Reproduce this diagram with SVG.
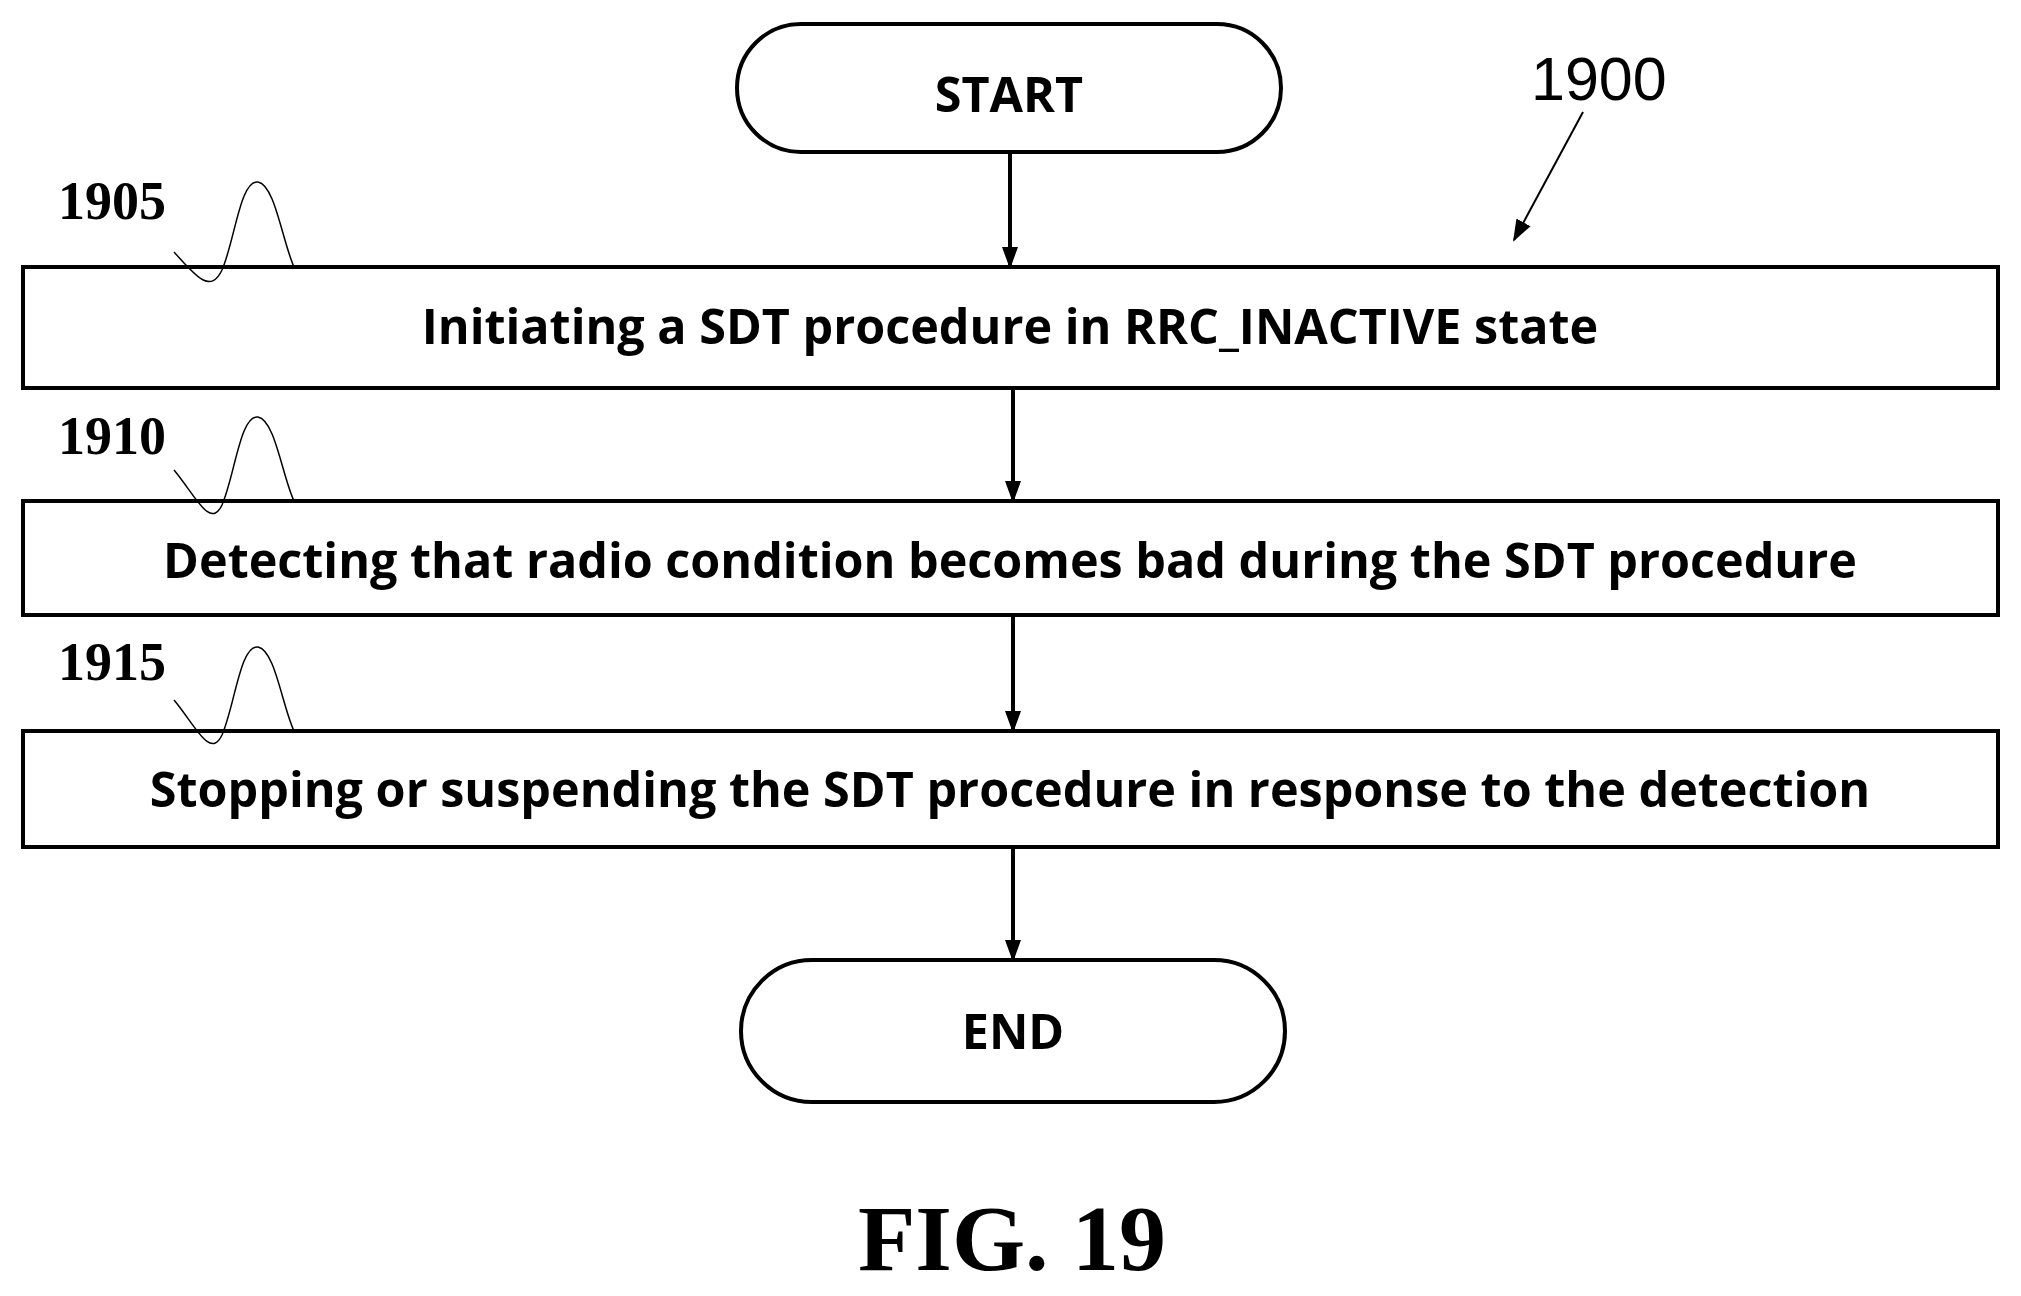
<svg xmlns="http://www.w3.org/2000/svg" width="2021" height="1296" viewBox="0 0 2021 1296">
<style>
.b{fill:#fff;stroke:#000;stroke-width:4}
.t{font-family:"Open Sans",sans-serif;font-weight:bold;font-size:48.5px;text-anchor:middle}
.r{font-family:"Liberation Serif",serif;font-weight:bold;font-size:54px}
.c{fill:none;stroke:#000;stroke-width:4}
.s{fill:none;stroke:#000;stroke-width:1.5}
</style>
<defs>
<marker id="m" markerWidth="22" markerHeight="22" refX="20" refY="11" orient="auto" markerUnits="userSpaceOnUse" viewBox="0 0 22 22"><path d="M0,3L22,11L0,19z"/></marker></defs>
<g id="start"><rect class="b" x="737" y="24" width="544" height="128" rx="64"/><text class="t" x="1009" y="112">START</text></g>
<g id="n1905"><rect class="b" x="23" y="267" width="1975" height="121"/><text class="t" x="1010" y="344">Initiating a SDT procedure in RRC_INACTIVE state</text>
<text class="r" x="58" y="219">1905</text><path class="s" d="M174,252C195,275 210,295 222,270C235,240 240,180 258,182C275,185 282,240 294,267"/></g>
<g id="n1910"><rect class="b" x="23" y="501" width="1975" height="114"/><text class="t" x="1010" y="578">Detecting that radio condition becomes bad during the SDT procedure</text>
<text class="r" x="58" y="454">1910</text><path class="s" d="M174,470C195,495 210,530 222,505C235,475 240,415 258,417C275,420 282,475 294,501"/></g>
<g id="n1915"><rect class="b" x="23" y="731" width="1975" height="116"/><text class="t" x="1010" y="807">Stopping or suspending the SDT procedure in response to the detection</text>
<text class="r" x="58" y="680">1915</text><path class="s" d="M174,700C195,725 210,760 222,735C235,705 240,645 258,647C275,650 282,705 294,731"/></g>
<g id="end"><rect class="b" x="741" y="960" width="544" height="142" rx="71"/><text class="t" x="1013" y="1049">END</text></g>
<g id="connectors">
<line class="c" x1="1010" y1="152" x2="1010" y2="267" marker-end="url(#m)"/>
<line class="c" x1="1013" y1="388" x2="1013" y2="501" marker-end="url(#m)"/>
<line class="c" x1="1013" y1="615" x2="1013" y2="731" marker-end="url(#m)"/>
<line class="c" x1="1013" y1="847" x2="1013" y2="960" marker-end="url(#m)"/>
<line x1="1583" y1="112" x2="1514" y2="240" stroke="#000" stroke-width="2" marker-end="url(#m)"/>
</g>
<text x="1531" y="100" font-family="Liberation Sans,sans-serif" font-size="61">1900</text>
<text x="1012" y="1270" text-anchor="middle" font-family="Liberation Serif,serif" font-weight="bold" font-size="94">FIG. 19</text>
</svg>
